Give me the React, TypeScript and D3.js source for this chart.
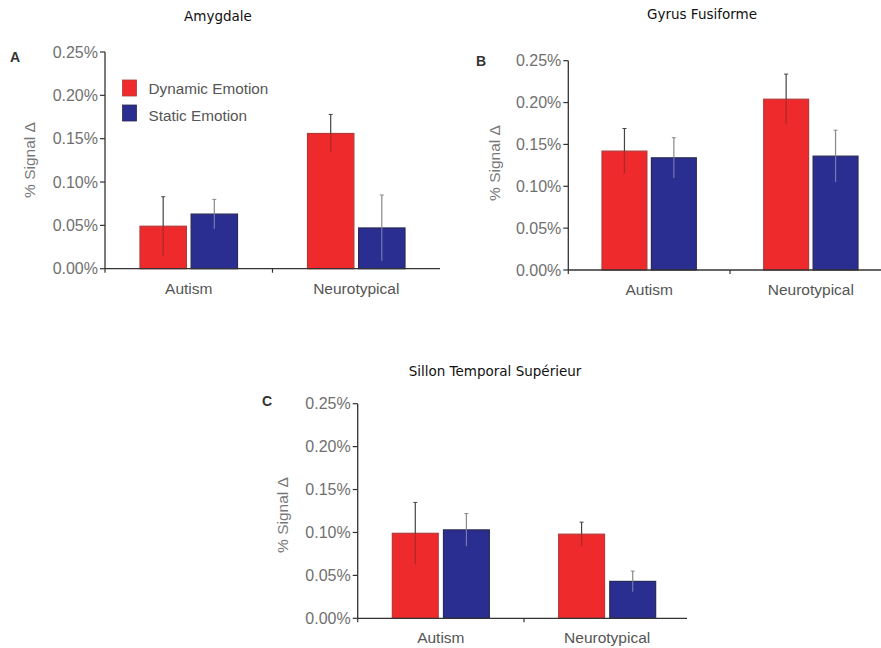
import React from "react";
import * as d3 from "d3";

const groups = ["Autism", "Neurotypical"];
const seriesNames = ["Dynamic Emotion", "Static Emotion"];
const yTicks = [0, 0.0005, 0.001, 0.0015, 0.002, 0.0025];

const amygdaleMeans = [[0.00049, 0.00063], [0.00156, 0.00047]];
const amygdaleErr = [[0.00034, 0.00017], [0.00022, 0.00038]];
const fusiformeMeans = [[0.00142, 0.00134], [0.00204, 0.00136]];
const fusiformeErr = [[0.00027, 0.00024], [0.0003, 0.00031]];
const stsMeans = [[0.00099, 0.00103], [0.00098, 0.00043]];
const stsErr = [[0.00036, 0.00019], [0.00014, 0.00012]];

const titles = ["Amygdale", "Gyrus Fusiforme", "Sillon Temporal Supérieur"];
const letters = ["A", "B", "C"];

const colors = ["#ee2a2c", "#2b2e91"];
const strokes = ["#b33a3a", "#2a2a55"];

type Layout = {
  x0: number; x1: number; axisEnd: number; yTop: number; yBot: number;
  barW: number; gap: number; titleX: number; titleY: number;
  letterX: number; letterY: number; ylabX: number; ylabY: number; legend?: boolean;
};

const layouts: Layout[] = [
  { x0: 105, x1: 440, axisEnd: 440, yTop: 52, yBot: 268.7, barW: 46.5, gap: 4.5, titleX: 218, titleY: 21, letterX: 10, letterY: 62, ylabX: 35, ylabY: 160, legend: true },
  { x0: 568.3, x1: 891.7, axisEnd: 881, yTop: 60.7, yBot: 270, barW: 45, gap: 4.3, titleX: 702, titleY: 19, letterX: 476, letterY: 66, ylabX: 500, ylabY: 163, legend: false },
  { x0: 357.7, x1: 690.3, axisEnd: 687, yTop: 403.7, yBot: 618.3, barW: 46, gap: 5, titleX: 495, titleY: 376, letterX: 262, letterY: 406, ylabX: 288, ylabY: 515, legend: false },
];

const panelData = [
  { means: amygdaleMeans, err: amygdaleErr },
  { means: fusiformeMeans, err: fusiformeErr },
  { means: stsMeans, err: stsErr },
];

const tickFmt = (v: number) => d3.format(".2f")(v * 100) + "%";

function Panel({ idx }: { idx: number }) {
  const L = layouts[idx];
  const { means, err } = panelData[idx];
  const y = d3.scaleLinear().domain([0, 0.0025]).range([L.yBot, L.yTop]);
  const xb = d3.scaleBand().domain(groups).range([L.x0, L.x1]).padding(0);
  const innerW = L.barW * 2 + L.gap;
  const labelFont = "'Liberation Sans', Arial, sans-serif";
  return (
    <g>
      <text x={L.titleX} y={L.titleY} textAnchor="middle" fontFamily="'DejaVu Sans', Verdana, sans-serif" fontSize={13.5} fill="#111">{titles[idx]}</text>
      <text x={L.letterX} y={L.letterY} fontFamily={labelFont} fontWeight="bold" fontSize={14} fill="#333">{letters[idx]}</text>
      <text transform={`translate(${L.ylabX},${L.ylabY}) rotate(-90)`} textAnchor="middle" fontFamily={labelFont} fontSize={15.5} fill="#777">% Signal Δ</text>
      {groups.map((g, gi) => {
        const c = (xb(g) as number) + xb.bandwidth() / 2;
        const xs = d3.scaleBand().domain(seriesNames).range([c - innerW / 2, c + innerW / 2]).paddingInner(L.gap / innerW * 2).paddingOuter(0);
        return seriesNames.map((s, si) => {
          const v = means[gi][si];
          const e = err[gi][si];
          const bx = xs(s) as number;
          const bw = xs.bandwidth();
          const cx = bx + bw / 2;
          return (
            <g key={g + s}>
              <rect x={bx} y={y(v)} width={bw} height={y(0) - y(v)} fill={colors[si]} stroke={strokes[si]} strokeWidth={1.2} />
              <line x1={cx} x2={cx} y1={y(v)} y2={y(v - e)} stroke={si === 0 ? "#9a2a2a" : "#8a8ab8"} strokeWidth={1.2} opacity={0.8} />
              <line x1={cx} x2={cx} y1={y(v + e)} y2={y(v)} stroke={si === 0 ? "#444" : "#888"} strokeWidth={1.2} />
              <line x1={cx - 2} x2={cx + 2} y1={y(v + e)} y2={y(v + e)} stroke={si === 0 ? "#444" : "#888"} strokeWidth={1} />
            </g>
          );
        });
      })}
      <line x1={L.x0} x2={L.x0} y1={L.yTop} y2={L.yBot} stroke="#333" strokeWidth={1.3} />
      {yTicks.map((t) => (
        <g key={t}>
          <line x1={L.x0 - 5} x2={L.x0} y1={y(t)} y2={y(t)} stroke="#333" strokeWidth={1.2} />
          <text x={L.x0 - 7} y={y(t)} dy="0.36em" textAnchor="end" fontFamily={labelFont} fontSize={16} fill="#707070">{tickFmt(t)}</text>
        </g>
      ))}
      <line x1={L.x0} x2={L.axisEnd} y1={L.yBot} y2={L.yBot} stroke="#333" strokeWidth={1.3} />
      {groups.slice(1).map((g) => (
        <line key={g} x1={xb(g) as number} x2={xb(g) as number} y1={L.yBot} y2={L.yBot + 4} stroke="#333" strokeWidth={1.2} />
      ))}
      <line x1={L.x0} x2={L.x0} y1={L.yBot} y2={L.yBot + 4} stroke="#333" strokeWidth={1.2} />
      {groups.map((g) => (
        <text key={g} x={(xb(g) as number) + xb.bandwidth() / 2} y={L.yBot + 25} textAnchor="middle" fontFamily={labelFont} fontSize={15.5} fill="#555">{g}</text>
      ))}
      {L.legend && seriesNames.map((s, si) => (
        <g key={s}>
          <rect x={122.5} y={80 + si * 25} width={14} height={16} fill={colors[si]} stroke={strokes[si]} strokeWidth={0.8} />
          <text x={148.5} y={88 + si * 27} dy="0.36em" fontFamily={labelFont} fontSize={15.3} fill="#555">{s}</text>
        </g>
      ))}
    </g>
  );
}

export default function App() {
  return (
    <svg width={881} height={648} style={{ position: "absolute", left: 0, top: 0, background: "#fff" }}>
      <rect width={881} height={648} fill="#fff" />
      {[0, 1, 2].map((i) => <Panel key={i} idx={i} />)}
    </svg>
  );
}
